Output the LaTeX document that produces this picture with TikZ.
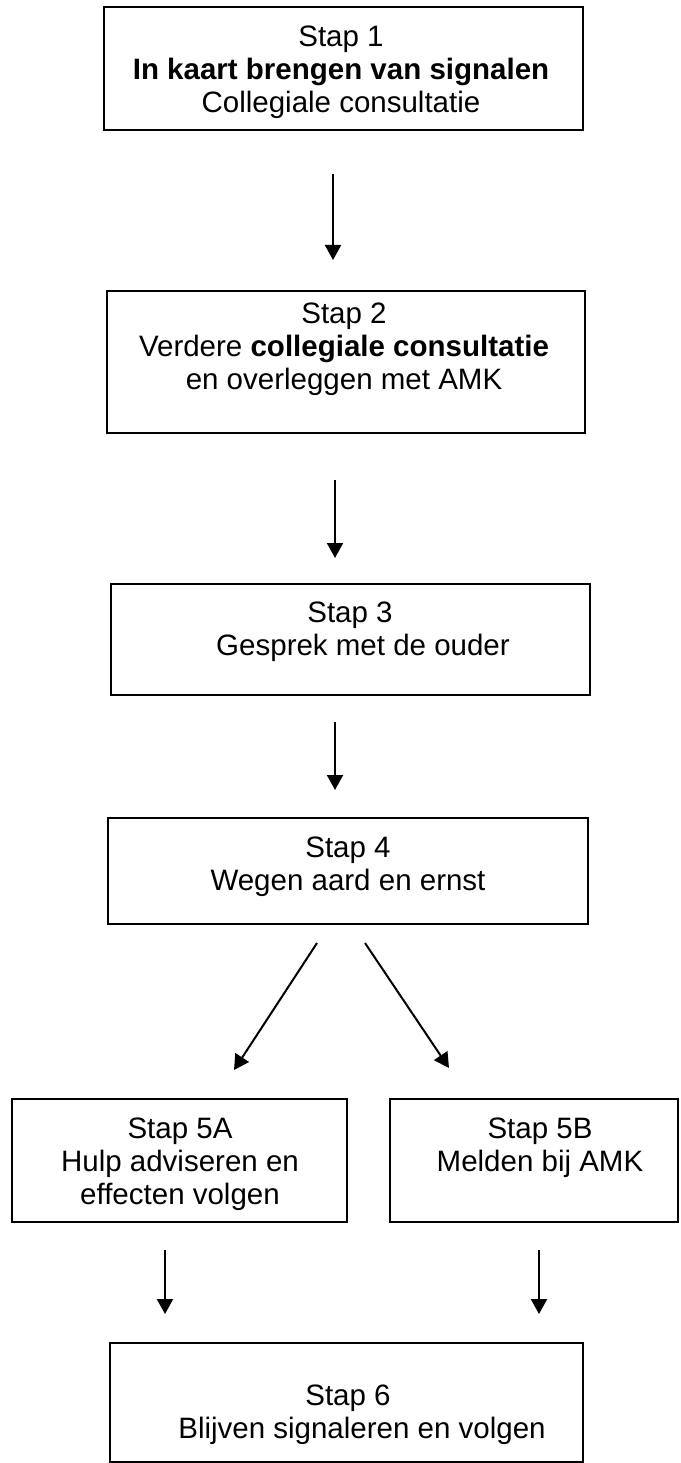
\documentclass[tikz,border=0pt]{standalone}
\usepackage{fontspec}
\setmainfont{Liberation Sans}
\usetikzlibrary{arrows.meta}
\begin{document}
\begin{tikzpicture}[x=1pt,y=-1pt,
  box/.style={draw,line width=2pt,inner sep=0pt},
  txt/.style={align=center,anchor=north,inner sep=0pt,font=\fontsize{29.5}{33}\selectfont},
  arr/.style={line width=2pt,-{Triangle[width=16pt,length=15pt]}}]
\useasboundingbox (0,0) rectangle (680,1463);
\clip (0,0) rectangle (680,1463);
% boxes
\node[box,minimum width=479pt,minimum height=123pt] (b1) at (343.5,68.5) {};
\node[box,minimum width=478pt,minimum height=142pt] (b2) at (346,362) {};
\node[box,minimum width=479pt,minimum height=111pt] (b3) at (350.5,639.5) {};
\node[box,minimum width=480pt,minimum height=106pt] (b4) at (348,871) {};
\node[box,minimum width=335pt,minimum height=123pt] (b5a) at (179.5,1160.5) {};
\node[box,minimum width=288pt,minimum height=123pt] (b5b) at (534,1160.5) {};
\node[box,minimum width=473pt,minimum height=118.5pt] (b6) at (346.5,1402.25) {};
% texts
\node[txt] (t1) at (341,22) {\rule{0pt}{24pt}Stap 1\\\textbf{In kaart brengen van signalen}\\Collegiale consultatie};
\node[txt] (t2) at (344,299) {\rule{0pt}{24pt}Stap 2\\Verdere \textbf{collegiale consultatie}\\en overleggen met AMK};
\node[txt] (t3) at (350,598) {\rule{0pt}{24pt}Stap 3\\\hspace*{26pt}Gesprek met de ouder};
\node[txt] (t4) at (348,833) {\rule{0pt}{24pt}Stap 4\\Wegen aard en ernst};
\node[txt] (t5a) at (180,1114) {\rule{0pt}{24pt}Stap 5A\\Hulp adviseren en\\effecten volgen};
\node[txt] (t5b) at (540,1114) {\rule{0pt}{24pt}Stap 5B\\Melden bij AMK};
\node[txt] (t6) at (348,1381) {\rule{0pt}{24pt}Stap 6\\\hspace*{28pt}Blijven signaleren en volgen};
% connector ends
\coordinate (a1s) at (333,174); \coordinate (a1e) at (333,260);
\coordinate (a2s) at (335,480); \coordinate (a2e) at (335,558);
\coordinate (a3s) at (335,722); \coordinate (a3e) at (335,790);
\coordinate (a4s) at (317,943); \coordinate (a4e) at (234,1070);
\coordinate (a5s) at (365,943); \coordinate (a5e) at (449,1068);
\coordinate (a6s) at (165,1250); \coordinate (a6e) at (165,1314);
\coordinate (a7s) at (539,1250); \coordinate (a7e) at (539,1314);
\draw[arr] (a1s) -- (a1e);
\draw[arr] (a2s) -- (a2e);
\draw[arr] (a3s) -- (a3e);
\draw[arr] (a4s) -- (a4e);
\draw[arr] (a5s) -- (a5e);
\draw[arr] (a6s) -- (a6e);
\draw[arr] (a7s) -- (a7e);
\end{tikzpicture}
\end{document}
